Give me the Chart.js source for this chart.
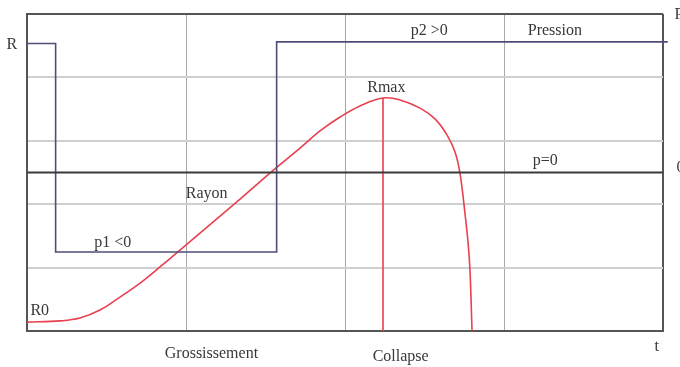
<!DOCTYPE html>
<html>
<head>
<meta charset="utf-8">
<script src="https://cdn.jsdelivr.net/npm/chart.js@4/dist/chart.umd.min.js"></script>
<style>
  html, body { margin: 0; padding: 0; background: #fff; }
  #wrap { width: 680px; height: 367px; }
</style>
</head>
<body>
<div id="wrap"><canvas id="Chart1"></canvas></div>
<script>
// time axis runs 0..4, value axis 0..10 (p=0 sits at 5)
const radiusT = [0, 0.208, 0.333, 0.459, 0.585, 0.711, 0.836, 1.088, 1.340, 1.528, 1.717, 1.843, 1.969, 2.094, 2.239, 2.346, 2.472, 2.566, 2.642, 2.692, 2.723, 2.755, 2.774, 2.786, 2.799];
const radiusR = [0.28, 0.32, 0.41, 0.66, 1.07, 1.51, 2.02, 3.09, 4.16, 4.98, 5.77, 6.31, 6.75, 7.10, 7.35, 7.29, 7.03, 6.69, 6.18, 5.65, 4.98, 3.69, 2.78, 1.92, 0];

const pressureT = [0, 0.18, 0.18, 1.57, 1.57, 4.03];
const pressureP = [9.07, 9.07, 2.49, 2.49, 9.12, 9.12];

const zeroT = [0, 4];
const zeroP = [5, 5];

const rmaxT = [2.239, 2.239];
const rmaxR = [0, 7.35];

// text labels: [text, t, value]
const labels = [
  ['p2 >0', 2.53, 9.46],
  ['Pression', 3.32, 9.46],
  ['Rmax', 2.26, 7.67],
  ['p=0', 3.26, 5.36],
  ['Rayon', 1.13, 4.32],
  ['p1 <0', 0.54, 2.78],
  ['R0', 0.08, 0.63]
];
const axisLabels = [
  ['Grossissement', 1.16, -0.72],
  ['Collapse', 2.35, -0.82],
  ['t', 3.96, -0.5],
  ['R', -0.095, 9.02],
  ['P', 4.1, 9.96],
  ['0', 4.11, 5.15]
];

function pts(xs, ys) {
  return xs.map((x, i) => ({x: x, y: ys[i]}));
}

const textPlugin = {
  id: 'texts',
  afterDatasetsDraw(chart) {
    const ctx = chart.ctx;
    const xs = chart.scales.x, ys = chart.scales.y;
    ctx.save();
    ctx.font = '16px "Liberation Serif", "Times New Roman", serif';
    ctx.fillStyle = '#383838';
    ctx.textAlign = 'center';
    ctx.textBaseline = 'middle';
    labels.concat(axisLabels).forEach(l => {
      ctx.fillText(l[0], xs.getPixelForValue(l[1]), ys.getPixelForValue(l[2]));
    });
    ctx.restore();
  }
};

const ctx = document.getElementById('Chart1').getContext('2d');
const myChart = new Chart(ctx, {
  type: 'scatter',
  data: {
    datasets: [
      {
        label: 'p=0',
        data: pts(zeroT, zeroP),
        showLine: true,
        borderColor: '#3a3a3a',
        borderWidth: 2,
        pointRadius: 0
      },
      {
        label: 'Pression',
        data: pts(pressureT, pressureP),
        showLine: true,
        borderColor: '#4e4e78',
        borderWidth: 1.6,
        pointRadius: 0,
        clip: false
      },
      {
        label: 'Rmax',
        data: pts(rmaxT, rmaxR),
        showLine: true,
        borderColor: '#e8404e',
        borderWidth: 1.6,
        pointRadius: 0
      },
      {
        label: 'Rayon',
        data: pts(radiusT, radiusR),
        showLine: true,
        borderColor: '#e8404e',
        borderWidth: 1.6,
        pointRadius: 0,
        tension: 0.4
      }
    ]
  },
  options: {
    responsive: true,
    maintainAspectRatio: false,
    animation: false,
    layout: { padding: { left: 27, top: 14, right: 17, bottom: 36 } },
    plugins: {
      legend: { display: false },
      tooltip: { enabled: false }
    },
    scales: {
      x: {
        type: 'linear',
        min: 0,
        max: 4,
        ticks: { display: false, stepSize: 1 },
        grid: {
          drawTicks: false,
          color: function(c) { return c.tick.value === 4 ? '#555' : '#a8a8a8'; },
          lineWidth: function(c) { return c.tick.value === 4 ? 2 : 1; }
        },
        border: { color: '#555', width: 2 }
      },
      y: {
        type: 'linear',
        min: 0,
        max: 10,
        ticks: { display: false, stepSize: 2 },
        grid: {
          drawTicks: false,
          color: function(c) { return c.tick.value === 10 ? '#555' : '#cfcfcf'; },
          lineWidth: 2
        },
        border: { color: '#555', width: 2 }
      }
    }
  },
  plugins: [textPlugin]
});
</script>
</body>
</html>
